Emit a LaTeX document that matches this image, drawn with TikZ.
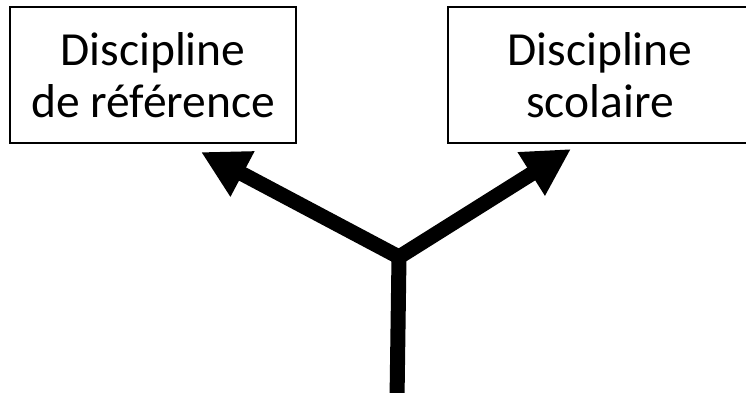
\documentclass[tikz,border=0pt]{standalone}
\usepackage{fontspec}
\setmainfont{Carlito}
\usetikzlibrary{arrows.meta}
\begin{document}
\begin{tikzpicture}[x=1pt,y=-1pt,
  box/.style={draw=black,line width=1.6pt,minimum width=286pt,minimum height=136pt,
    align=center,inner sep=0pt,font=\fontsize{47.5pt}{52pt}\selectfont},
  thick arrow/.style={line width=15pt,-{Triangle[length=47pt,width=48pt]}}]
\useasboundingbox (0,0) rectangle (746,393);
\clip (0,0) rectangle (746,393);
\node[box] (ref) at (153,75) {Discipline\\de référence};
\node[box,minimum width=304pt] (sco) at (600,75) {Discipline\\scolaire};
\coordinate (j) at (399,257);
\coordinate (bot) at (397,400);
\coordinate (lt) at (201,152);
\coordinate (rt) at (571,149);
\draw[line width=15pt] (bot) -- (j);
\draw[thick arrow,line join=round] (j) -- (lt);
\draw[thick arrow,line join=round] (j) -- (rt);
\fill (j) circle (7.5pt);
\end{tikzpicture}
\end{document}
